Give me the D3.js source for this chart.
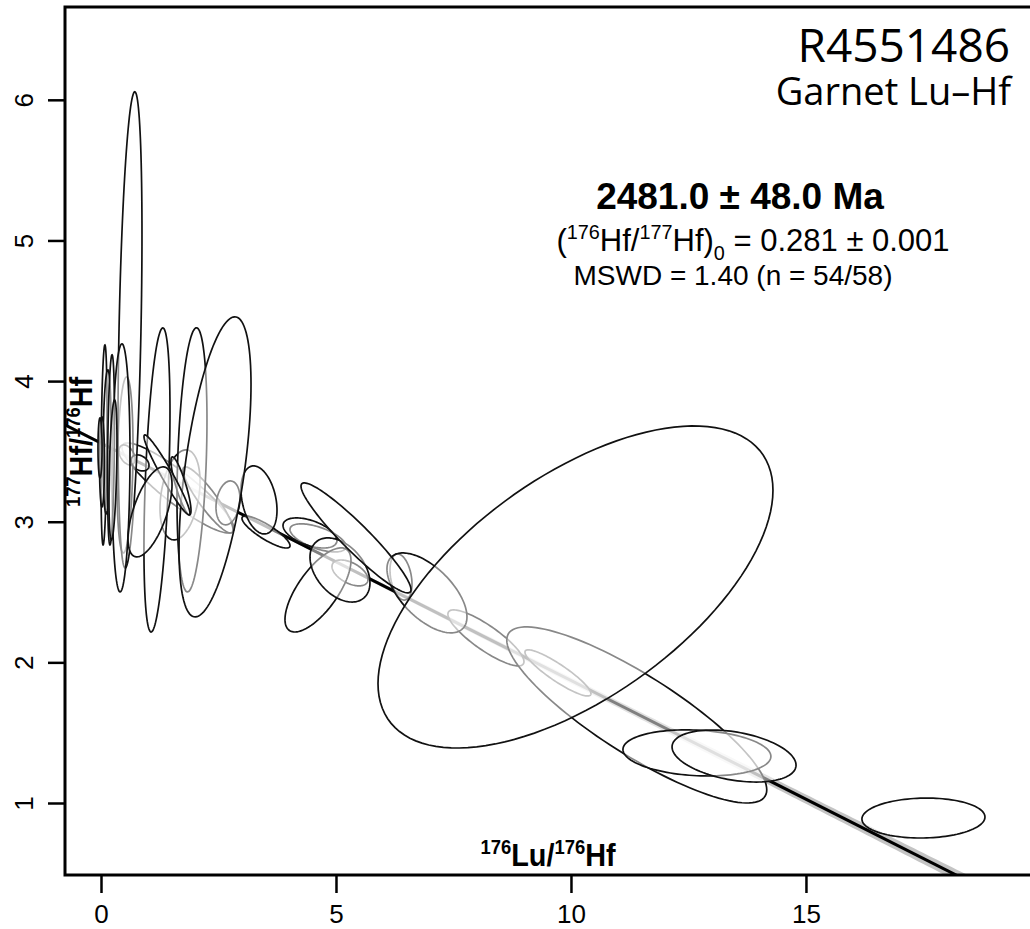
<!DOCTYPE html>
<html>
<head>
<meta charset="utf-8">
<script src="https://cdn.jsdelivr.net/npm/d3@7"></script>
<style>
  body { margin: 0; background: #fff; }
</style>
</head>
<body>
<div id="chart"></div>
<script>
// analyses, in the order they are plotted (later ellipses veil earlier ones)
const luHf    = [1.638, 0.511, 0.553, 1.681, 2.277, 2.702, 6.383, 5.298, 4.617, 8.191, 9.723, 11.40, 6.936, 10.096, 12.68, 13.47, 17.50, 4.447, 4.617, 5.085, 5.426, 3.511, 3.362, 1.936, 2.426, 1.191, 1.702, 1.404, 0.830, 0.617, 0.426, 1.043, 0.064, 0.128, 0.021, 0.213, -0.021, 0.255];
const luHfErr = [1.191, 0.170, 0.170, 0.426, 0.532, 0.255, 0.234, 0.383, 0.596, 0.809, 0.702, 2.766, 0.851, 4.202, 1.574, 1.319, 1.309, 0.574, 0.702, 0.638, 1.170, 0.511, 0.383, 0.319, 0.766, 0.277, 0.213, 0.489, 0.191, 0.255, 0.191, 0.468, 0.064, 0.085, 0.053, 0.074, 0.043, 0.085];
const hfHf    = [3.240, 3.404, 3.475, 3.191, 3.155, 3.134, 2.607, 2.636, 2.885, 2.174, 1.925, 1.626, 2.494, 2.536, 1.356, 1.334, 0.893, 2.920, 2.515, 2.657, 2.885, 2.927, 3.155, 3.440, 3.390, 3.297, 3.255, 3.333, 3.418, 4.364, 3.383, 3.070, 3.546, 3.568, 3.425, 3.511, 3.525, 3.368];
const hfHfErr = [0.320, 0.626, 0.071, 0.320, 0.235, 0.156, 0.164, 0.092, 0.100, 0.199, 0.164, 0.626, 0.284, 1.145, 0.164, 0.185, 0.142, 0.107, 0.299, 0.228, 0.391, 0.114, 0.242, 0.939, 1.067, 1.081, 0.206, 0.284, 0.057, 1.693, 0.882, 0.320, 0.711, 0.512, 0.320, 0.676, 0.213, 0.498];
const rho     = [-0.9, 0.2, -0.4, 0.3, -0.9, 0.2, -0.3, -0.5, -0.6, -0.85, -0.9, -0.85, -0.6, 0.6, -0.15, -0.35, 0.05, -0.5, 0.7, -0.4, -0.94, -0.85, -0.3, 0.3, 0.55, 0.45, -0.85, -0.96, -0.3, 0.4, 0.1, 0.6, 0.3, 0.2, 0, 0.3, 0, 0.4];

const xTicks = [0, 5, 10, 15];
const yTicks = [1, 2, 3, 4, 5, 6];

// isochron fit
const isoIntercept = 3.559;
const isoSlope = -0.1688;
const interceptErr = 0.012;
const slopeErr = 0.0025;
const errCorr = -0.5;

const sampleName = "R4551486";
const methodName = "Garnet Lu\u2013Hf";
const ageText = "2481.0 \u00b1 48.0 Ma";
const initialText = " = 0.281 \u00b1 0.001";
const mswdText = "MSWD = 1.40 (n = 54/58)";

const width = 1030;
const height = 929;
const plot = { left: 65, top: 7, right: 1040, bottom: 875 };

const svg = d3.select("#chart").append("svg")
    .attr("width", width)
    .attr("height", height)
    .style("font-family", "'Liberation Sans', Arial, sans-serif");

const x = d3.scaleLinear().domain([-0.766, 19.98]).range([plot.left, plot.right]);
const y = d3.scaleLinear().domain([0.488, 6.66]).range([plot.bottom, plot.top]);

svg.append("clipPath").attr("id", "clip")
    .append("rect")
    .attr("x", plot.left).attr("y", plot.top)
    .attr("width", plot.right - plot.left).attr("height", plot.bottom - plot.top);

const g = svg.append("g").attr("clip-path", "url(#clip)");

// confidence envelope + isochron line
const xs = d3.range(-1, 21.01, 0.1);
const band = d => Math.sqrt(interceptErr ** 2 + 2 * d * errCorr * interceptErr * slopeErr + d * d * slopeErr ** 2);
g.append("path")
    .datum(xs)
    .attr("d", d3.area()
        .x(d => x(d))
        .y0(d => y(isoIntercept + isoSlope * d - band(d)))
        .y1(d => y(isoIntercept + isoSlope * d + band(d))))
    .attr("fill", "#c4c4c4");

g.append("line")
    .attr("x1", x(-1)).attr("y1", y(isoIntercept + isoSlope * -1))
    .attr("x2", x(21)).attr("y2", y(isoIntercept + isoSlope * 21))
    .attr("stroke", "#000")
    .attr("stroke-width", 3);

// error ellipses
const ts = d3.range(0, 2 * Math.PI, Math.PI / 60);
const ellipse = d3.line().curve(d3.curveLinearClosed);
luHf.forEach((cx, i) => {
    const r = rho[i], q = Math.sqrt(1 - r * r);
    const pts = ts.map(t => [
        x(cx + luHfErr[i] * Math.cos(t)),
        y(hfHf[i] + hfHfErr[i] * (r * Math.cos(t) + q * Math.sin(t)))
    ]);
    g.append("path")
        .attr("d", ellipse(pts))
        .attr("fill", "#fff")
        .attr("fill-opacity", 0.5)
        .attr("stroke", "#111")
        .attr("stroke-width", 1.7);
});

// axes
const xAxis = svg.append("g")
    .attr("transform", `translate(0,${plot.bottom})`)
    .call(d3.axisBottom(x).tickValues(xTicks).tickSize(18).tickPadding(12).tickFormat(d3.format("d")));
xAxis.select(".domain").remove();
xAxis.selectAll("line").attr("stroke", "#000").attr("stroke-width", 2.5);
xAxis.selectAll("text").attr("font-size", 26).attr("fill", "#000")
    .style("font-family", "'Liberation Sans', Arial, sans-serif");

const yAxis = svg.append("g")
    .attr("transform", `translate(${plot.left},0)`)
    .call(d3.axisLeft(y).tickValues(yTicks).tickSize(17).tickFormat(d3.format("d")));
yAxis.select(".domain").remove();
yAxis.selectAll("line").attr("stroke", "#000").attr("stroke-width", 2.5);
yAxis.selectAll("text")
    .attr("transform", "rotate(-90)")
    .attr("x", 0).attr("y", -32).attr("dy", 0)
    .attr("text-anchor", "middle")
    .attr("font-size", 26).attr("fill", "#000")
    .style("font-family", "'Liberation Sans', Arial, sans-serif");

svg.append("rect")
    .attr("x", plot.left).attr("y", plot.top)
    .attr("width", plot.right - plot.left).attr("height", plot.bottom - plot.top)
    .attr("fill", "none").attr("stroke", "#000").attr("stroke-width", 3);

// text with super/subscripts
function rich(sel, parts, size) {
    let shift = 0;
    parts.forEach(p => {
        const target = p.sup ? -0.38 * size : p.sub ? 0.3 * size : 0;
        sel.append("tspan")
            .attr("dy", target - shift)
            .attr("font-size", p.sup || p.sub ? size * 0.64 : size)
            .text(p.t);
        shift = target;
    });
}

// axis titles, condensed like the original
const xLab = svg.append("text")
    .attr("transform", "translate(548,866) scale(0.9,1)")
    .attr("text-anchor", "middle")
    .attr("font-weight", "bold");
rich(xLab, [{ t: "176", sup: true }, { t: "Lu/" }, { t: "176", sup: true }, { t: "Hf" }], 32);

const yLab = svg.append("text")
    .attr("transform", "translate(92,442) rotate(-90) scale(0.9,1)")
    .attr("text-anchor", "middle")
    .attr("font-weight", "bold");
rich(yLab, [{ t: "177", sup: true }, { t: "Hf/" }, { t: "176", sup: true }, { t: "Hf" }], 32);

// titles
const title = "'Open Sans', Lato, sans-serif";
svg.append("text")
    .attr("x", 1010).attr("y", 62)
    .attr("text-anchor", "end")
    .attr("font-size", 46)
    .style("font-family", title)
    .text(sampleName);
svg.append("text")
    .attr("x", 1011).attr("y", 105)
    .attr("text-anchor", "end")
    .attr("font-size", 38)
    .style("font-family", title)
    .text(methodName);

// isochron result
svg.append("text")
    .attr("x", 740).attr("y", 209)
    .attr("text-anchor", "middle")
    .attr("font-size", 37)
    .attr("font-weight", "bold")
    .text(ageText);

const initLine = svg.append("text")
    .attr("x", 753).attr("y", 251)
    .attr("text-anchor", "middle");
rich(initLine, [{ t: "(" }, { t: "176", sup: true }, { t: "Hf/" }, { t: "177", sup: true }, { t: "Hf)" }, { t: "0", sub: true }, { t: initialText }], 31);

svg.append("text")
    .attr("x", 733).attr("y", 285)
    .attr("text-anchor", "middle")
    .attr("font-size", 28)
    .text(mswdText);
</script>
</body>
</html>
